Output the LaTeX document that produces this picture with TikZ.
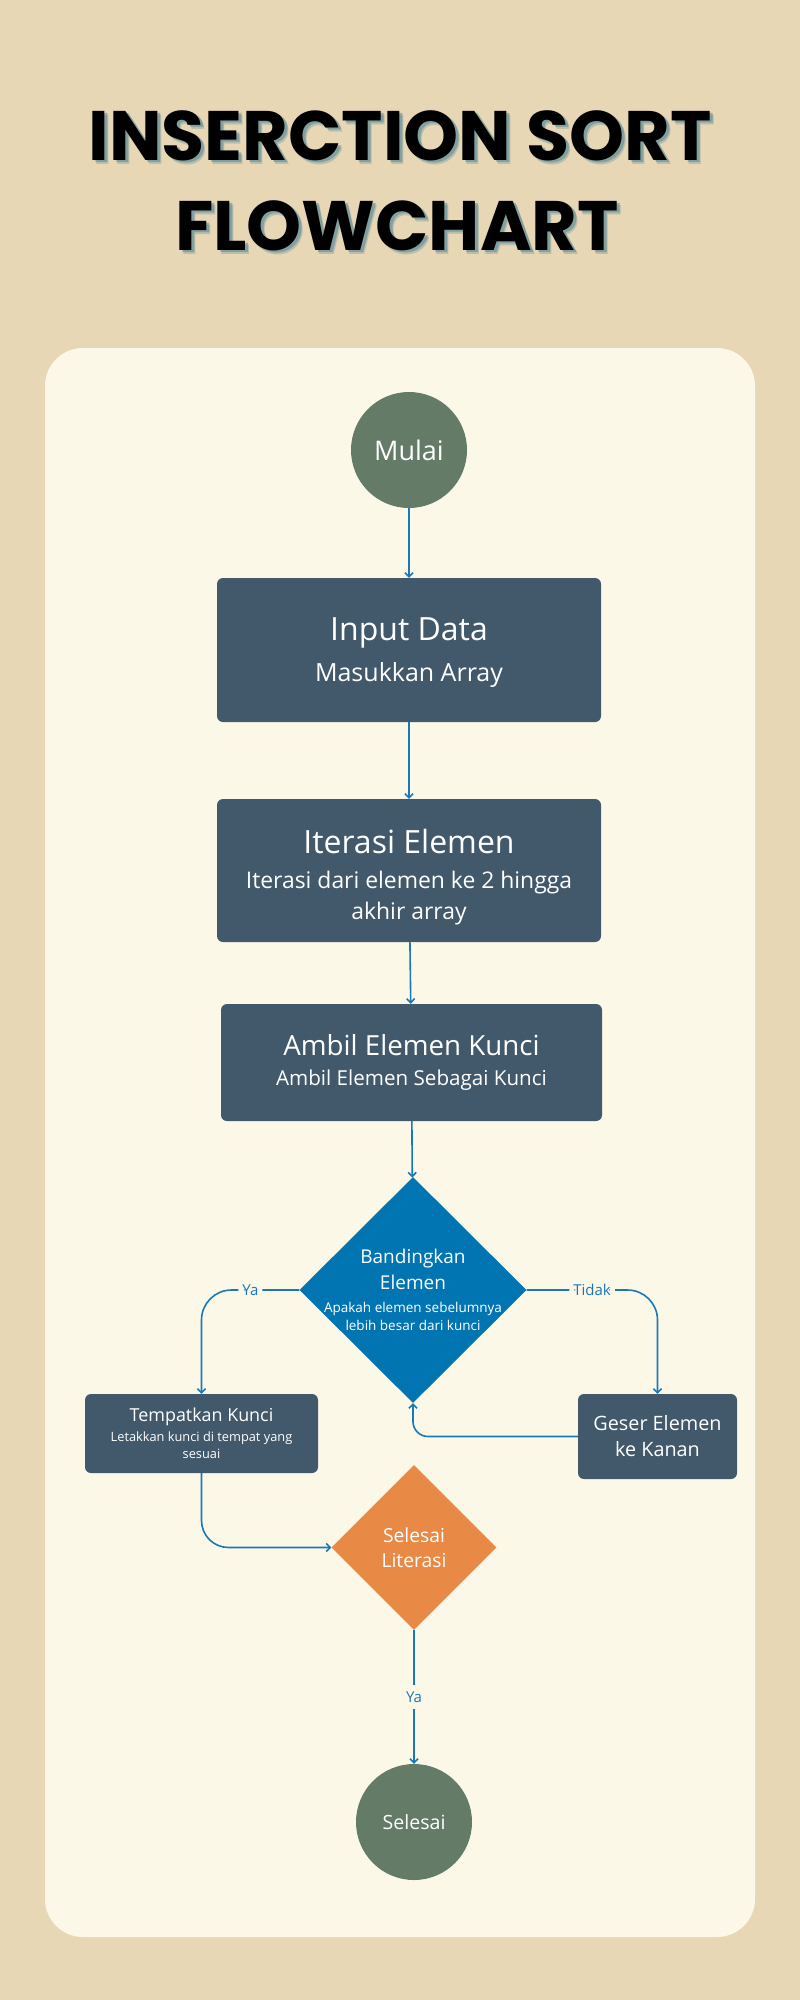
\documentclass[tikz,border=0pt]{standalone}
\usepackage{fontspec}
\setmainfont{Open Sans}
\newfontfamily\titlefont{Poppins}
\usetikzlibrary{shapes.geometric,arrows.meta}

\definecolor{bgsand}{HTML}{E7D7B5}
\definecolor{panelcream}{HTML}{FCF8E8}
\definecolor{startgreen}{HTML}{647B68}
\definecolor{stepslate}{HTML}{41596A}
\definecolor{askblue}{HTML}{0174B2}
\definecolor{endorange}{HTML}{E88A45}
\definecolor{lineblue}{HTML}{1A78B8}
\definecolor{titleshade}{HTML}{4F8496}

\newcommand{\sz}[2]{\fontsize{#1}{#2}\selectfont}

\begin{document}
\begin{tikzpicture}[
  x=1pt, y=-1pt,
  titlesty/.style={anchor=base, inner sep=0pt, font=\titlefont\bfseries\sz{70}{80}},
  terminal/.style={circle, fill=startgreen, text=white, minimum size=116pt, inner sep=0pt, align=center},
  stepbox/.style={rectangle, rounded corners=6pt, fill=stepslate, text=white, align=center, inner sep=0pt},
  askdiamond/.style={diamond, fill=askblue, text=white, align=center, inner sep=-10pt, minimum width=227pt, minimum height=226pt},
  enddiamond/.style={diamond, fill=endorange, text=white, align=center, inner sep=0pt, minimum width=165pt, minimum height=165pt},
  flow/.style={draw=lineblue, line width=1.6pt, -{Straight Barb[length=4pt,width=8pt]}},
  yesno/.style={text=lineblue, fill=panelcream, inner xsep=4pt, inner ysep=7pt, font=\sz{15}{18}}]

% background and panel
\fill[bgsand] (0,0) rectangle (800,2000);
\fill[panelcream, rounded corners=38pt] (45,348) rectangle (755,1937);

% title with soft shadow
\node[titlesty, text=titleshade, opacity=0.3] (shadeA) at (404,164) {INSERCTION SORT};
\node[titlesty, text=titleshade, opacity=0.5] (shadeB) at (403,162) {INSERCTION SORT};
\node[titlesty] (title1) at (400,160) {INSERCTION SORT};
\node[titlesty, text=titleshade, opacity=0.3] (shadeC) at (401,254) {FLOWCHART};
\node[titlesty, text=titleshade, opacity=0.5] (shadeD) at (400,252) {FLOWCHART};
\node[titlesty] (title2) at (397,250) {FLOWCHART};

% steps
\node[terminal, font=\sz{27}{30}] (start) at (409,450) {Mulai};
\node[stepbox, minimum width=384pt, minimum height=144pt, text height=69pt, font=\sz{25}{41}] (input) at (409,650)
  {\sz{32}{41}Input Data\\Masukkan Array};
\node[stepbox, minimum width=384pt, minimum height=143pt, text height=103pt, font=\sz{22.9}{31}] (iter) at (409,870.5)
  {\sz{32}{31}Iterasi Elemen\\[4pt]Iterasi dari elemen ke 2 hingga\\akhir array};
\node[stepbox, minimum width=381pt, minimum height=117pt, font=\sz{20.6}{30}] (pick) at (411.5,1062.5)
  {\sz{27.7}{30}Ambil Elemen Kunci\\Ambil Elemen Sebagai Kunci};
\node[askdiamond, font=\sz{13.5}{26}] (cmp) at (413,1290)
  {\sz{19}{26}Bandingkan\\\sz{19}{26}Elemen\\[-3pt]Apakah elemen sebelumnya\\[-8pt]lebih besar dari kunci};
\node[stepbox, minimum width=233pt, minimum height=79pt, font=\sz{12.8}{17}] (place) at (201.5,1433.5)
  {\sz{17.9}{17}Tempatkan Kunci\\[3pt]Letakkan kunci di tempat yang\\sesuai};
\node[stepbox, minimum width=159pt, minimum height=85pt, font=\sz{19.8}{26}] (shift) at (657.5,1436.5)
  {Geser Elemen\\ke Kanan};
\node[enddiamond, font=\sz{19.3}{25}] (lit) at (414,1547.5) {Selesai\\Literasi};
\node[terminal, font=\sz{19.6}{22}] (stop) at (414,1822) {Selesai};

% connectors
\draw[flow] (start) -- (input);
\draw[flow] (input) -- (iter);
\draw[flow] (iter) -- (pick);
\draw[flow] (pick) -- (cmp);
\draw[flow, rounded corners=30pt] (cmp.west) -- node[yesno]{Ya} (cmp.west -| place.north) -- (place.north);
\draw[flow, rounded corners=30pt] (cmp.east) -- node[yesno]{Tidak} (cmp.east -| shift.north) -- (shift.north);
\draw[flow, rounded corners=15pt] (shift.west) -- (shift.west -| cmp.south) -- (cmp.south);
\draw[flow, rounded corners=27pt] (place.south) -- (place.south |- lit.west) -- (lit.west);
\draw[flow] (lit.south) -- node[yesno]{Ya} (stop.north);

\end{tikzpicture}
\end{document}
